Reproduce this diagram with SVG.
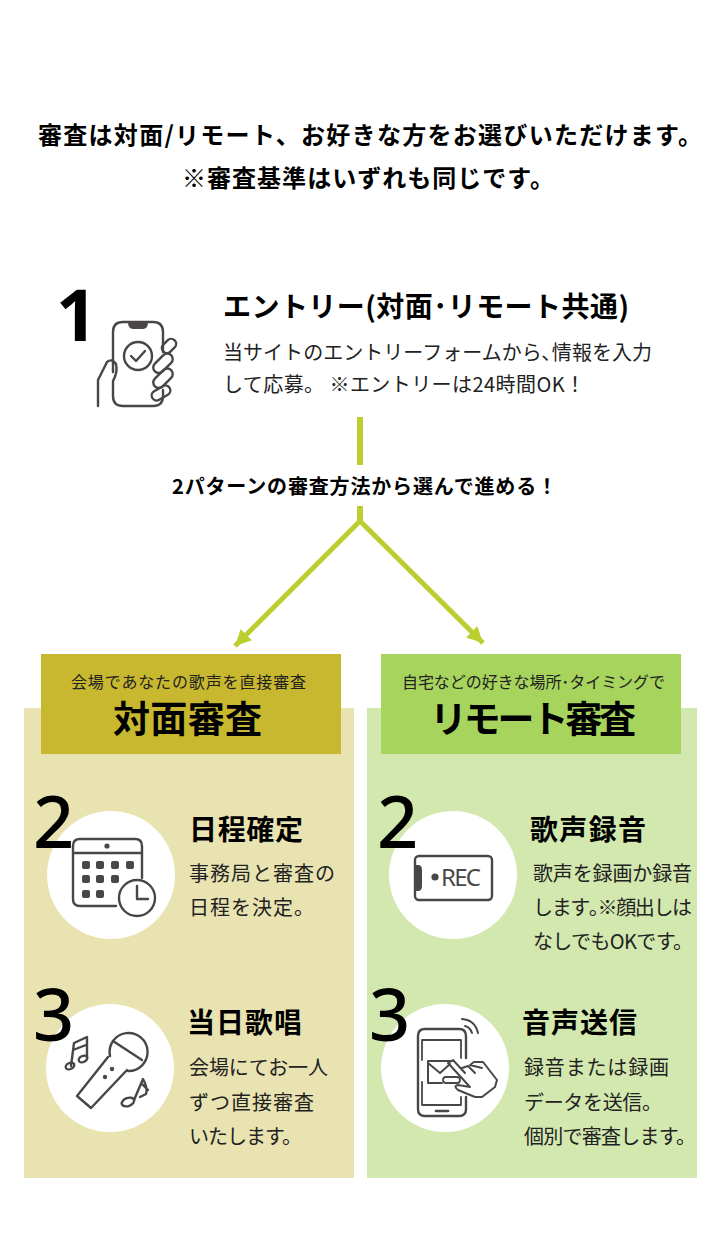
<svg xmlns="http://www.w3.org/2000/svg" width="722" height="1244" viewBox="0 0 722 1244">
<style>
text{font-family:"Noto Sans CJK JP","Noto Sans",sans-serif;fill:#000}
.lead{font-size:24px;font-weight:700}
.h{font-size:28px;font-weight:700}
.b{font-size:20px;font-weight:400;fill:#222}
.n{font-size:72px;font-weight:500;font-family:"Noto Sans","Noto Sans CJK JP",sans-serif}
.sub{font-size:16px;fill:#222}
.title{font-size:37px;font-weight:700}
.ic{fill:none;stroke:#4a4646;stroke-width:2.4;stroke-linecap:round;stroke-linejoin:round}
.icf{fill:#4a4646;stroke:none}
.w{fill:#fff}
</style>
<defs>
<marker id="ah" markerUnits="userSpaceOnUse" markerWidth="20" markerHeight="20" refX="16" refY="8" orient="auto"><path d="M0 0L16 8L0 16Z" fill="#bccd30"/></marker>
</defs>
<g id="lead">
<text class="lead" x="38" y="144" textLength="664">審査は対面/リモート、お好きな方をお選びいただけます。</text>
<text class="lead" x="182" y="187" textLength="372">※審査基準はいずれも同じです。</text>
</g>
<g id="connectors">
<path d="M360 417V465M360 506V521" fill="none" stroke="#bccd30" stroke-width="6"/>
<path d="M360 521L235 646" fill="none" stroke="#bccd30" stroke-width="5" marker-end="url(#ah)"/>
<path d="M360 521L483 643" fill="none" stroke="#bccd30" stroke-width="5" marker-end="url(#ah)"/>
</g>
<text x="172" y="494" font-size="20" font-weight="700" textLength="385">2パターンの審査方法から選んで進める！</text>
<g id="step1">
<text class="n" x="56" y="341" style="font-weight:700">1</text>
<g class="ic">
<path d="M113 372V332Q113 322 123 322H153Q163 322 163 332V352M163 390V396Q163 406 153 406H123Q113 406 113 396V381Q118 372 116 364Q112 358 107 362L98 380V406"/>
<path class="icf" d="M128 322H148Q148 329 143 329H133Q128 329 128 322Z"/>
<circle cx="138" cy="356" r="14"/>
<path d="M131 356L136 361L145 351"/>
<rect x="161" y="341" width="16" height="10" rx="5" transform="rotate(-45 169 346)"/>
<rect x="152" y="358" width="23" height="11" rx="5.5" transform="rotate(-45 163 364)"/>
<rect x="152" y="373" width="23" height="11" rx="5.5" transform="rotate(-45 163 379)"/>
<rect x="151" y="388" width="20" height="10" rx="5" transform="rotate(-30 161 393)"/>
</g>
<text class="h" x="223" y="317" textLength="406">エントリー(対面･リモート共通)</text>
<text class="b" x="223" y="360" textLength="429">当サイトのエントリーフォームから､情報を入力</text>
<text class="b" x="223" y="392" textLength="362">して応募。 ※エントリーは24時間OK！</text>
</g>
<g id="panel-left">
<rect x="24" y="708" width="330" height="470" fill="#e8e3b0"/>
<rect x="41" y="654" width="300" height="100" fill="#c8b82f"/>
<text class="sub" x="71" y="688" textLength="235">会場であなたの歌声を直接審査</text>
<text class="title" x="113" y="733" textLength="149">対面審査</text>
</g>
<g id="panel-right">
<rect x="367" y="708" width="330" height="470" fill="#d2e8ae"/>
<rect x="381" y="654" width="300" height="100" fill="#a6d45c"/>
<text class="sub" x="402" y="688" textLength="263">自宅などの好きな場所･タイミングで</text>
<text class="title" x="430" y="733" textLength="206">リモート審査</text>
</g>
<g id="left-2">
<circle class="w" cx="111" cy="875" r="64"/>
<text class="n" x="33" y="848">2</text>
<g class="ic">
<path d="M142 878V846Q142 839 135 839H80Q73 839 73 846V899Q73 906 80 906H116M73 853H142"/>
<circle cx="137" cy="898" r="18"/>
<path d="M137 886V899H148"/>
</g>
<g class="icf">
<circle cx="107" cy="846" r="2.6"/>
<rect x="82" y="861" width="8" height="8" rx="2"/><rect x="96" y="861" width="8" height="8" rx="2"/><rect x="111" y="861" width="8" height="8" rx="2"/><rect x="126" y="861" width="8" height="8" rx="2"/>
<rect x="82" y="875" width="8" height="8" rx="2"/><rect x="96" y="875" width="8" height="8" rx="2"/><rect x="111" y="875" width="8" height="8" rx="2"/>
<rect x="82" y="890" width="8" height="8" rx="2"/><rect x="96" y="890" width="8" height="8" rx="2"/>
</g>
<text class="h" x="189" y="840" textLength="114">日程確定</text>
<text class="b" x="189" y="881" textLength="146">事務局と審査の</text>
<text class="b" x="189" y="915" textLength="125">日程を決定。</text>
</g>
<g id="left-3">
<circle class="w" cx="110" cy="1068" r="64"/>
<text class="n" x="33" y="1041">3</text>
<g class="ic">
<path d="M110 1056A19 19 0 1 1 128 1071"/>
<path d="M113 1041L142 1060M108 1057L77 1096L91 1108L127 1070"/>
<path d="M71 1066L74 1043L87 1037L87 1058M73 1050L86 1045"/>
<ellipse cx="70" cy="1066" rx="4.5" ry="3" transform="rotate(-25 70 1066)"/>
<ellipse cx="83" cy="1059" rx="4.5" ry="3" transform="rotate(-25 83 1059)"/>
<path d="M134 1100L143 1079Q148 1088 146 1094L140 1097M142 1084L148 1090"/>
<ellipse cx="128" cy="1102" rx="6.5" ry="4" transform="rotate(-20 128 1102)"/>
</g>
<circle class="icf" cx="112" cy="1069" r="2.2"/><circle class="icf" cx="105" cy="1077" r="2.2"/>
<text class="h" x="187" y="1033" textLength="115">当日歌唱</text>
<text class="b" x="189" y="1075" textLength="139">会場にてお一人</text>
<text class="b" x="189" y="1110" textLength="125">ずつ直接審査</text>
<text class="b" x="189" y="1144" textLength="113">いたします。</text>
</g>
<g id="right-2">
<circle class="w" cx="453" cy="875" r="64"/>
<text class="n" x="377" y="848">2</text>
<rect class="ic" x="415" y="856" width="77" height="44" rx="4"/>
<path class="icf" d="M415 865H418Q422 865 422 870V886Q422 891 418 891H415Z"/>
<circle class="icf" cx="435" cy="877" r="3.6"/>
<text x="441" y="886" font-size="24" textLength="40" style="fill:#4a4646;font-family:'Noto Sans',sans-serif">REC</text>
<text class="h" x="530" y="840" textLength="116">歌声録音</text>
<text class="b" x="533" y="881" textLength="159">歌声を録画か録音</text>
<text class="b" x="533" y="915" textLength="159">します｡※顔出しは</text>
<text class="b" x="533" y="949" textLength="160">なしでもOKです。</text>
</g>
<g id="right-3">
<circle class="w" cx="445" cy="1068" r="64"/>
<text class="n" x="369" y="1041">3</text>
<g class="ic">
<path d="M466 1058V1036Q466 1029 459 1029H425Q418 1029 418 1036V1109Q418 1116 425 1116H459Q466 1116 466 1109V1097"/>
<path d="M422 1060V1040H461V1058M461 1097V1105H422V1082" stroke-width="1.8"/>
<path d="M436 1111H448" stroke-width="2.6"/>
<path d="M462 1019Q475 1020 478 1033M465 1026Q470 1027 472 1033" stroke-width="2"/>
<path d="M442 1083H428V1061H452M428 1063L440 1073L450 1064" stroke-width="2"/>
<path d="M448 1063L453 1060L465 1073M448 1063L470 1087L458 1085Q453 1086 458 1090L475 1097H482L495 1087L497 1080L483 1062H478L474 1062L470 1065L482 1068M462 1068L468 1066L475 1073" stroke-width="2"/>
<rect x="443" y="1077" width="17" height="6" rx="3" stroke-width="1.8"/>
</g>
<text class="h" x="522" y="1033" textLength="115">音声送信</text>
<text class="b" x="524" y="1075" textLength="145">録音または録画</text>
<text class="b" x="524" y="1110" textLength="138">データを送信。</text>
<text class="b" x="524" y="1144" textLength="172">個別で審査します。</text>
</g>
</svg>
